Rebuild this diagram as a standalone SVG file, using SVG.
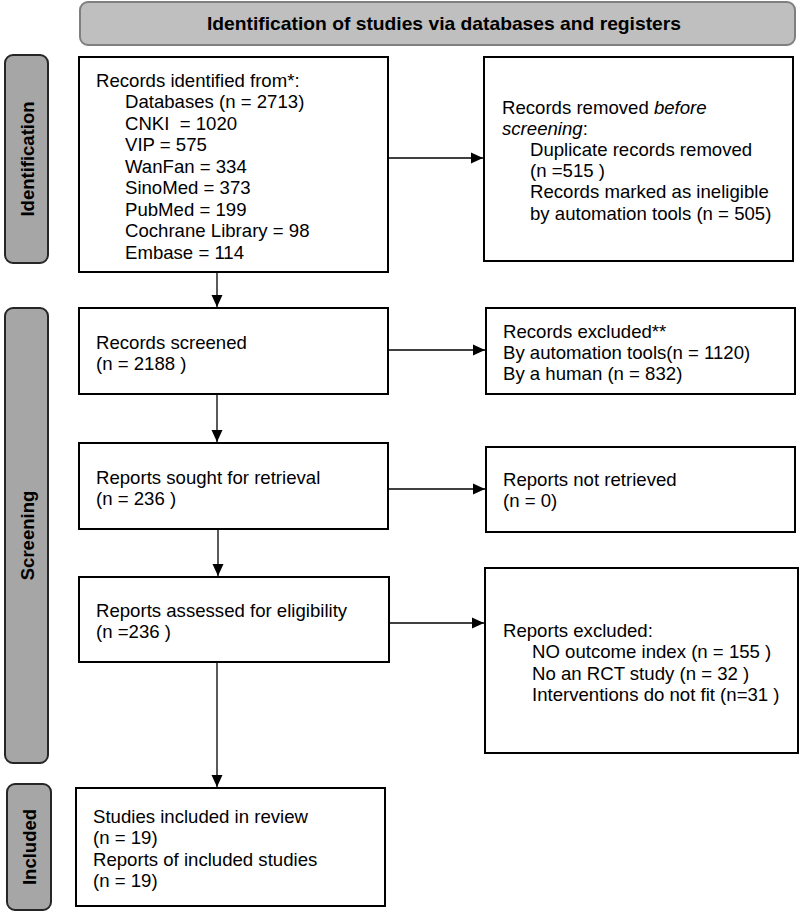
<svg xmlns="http://www.w3.org/2000/svg" width="800" height="914" viewBox="0 0 800 914">
<defs>
<style>
.box{fill:#fff;stroke:#000;stroke-width:2}
.side{fill:#a6a6a6;stroke:#262626;stroke-width:2}
.hdr{fill:#bfbfbf;stroke:#7f7f7f;stroke-width:2}
.t{font-family:"Liberation Sans",Arial,sans-serif;font-size:18.6px;fill:#000}
.lbl{font-family:"Liberation Sans",Arial,sans-serif;font-size:18.5px;font-weight:bold;fill:#000;text-anchor:middle}
.ln{stroke:#000;stroke-width:1.3;fill:none}
</style>
<marker id="ah" viewBox="0 0 12 12" refX="12" refY="6" markerWidth="12" markerHeight="12" markerUnits="userSpaceOnUse" orient="auto">
<path d="M0,0.5 L12,6 L0,11.5 Z" fill="#000"/>
</marker>
</defs>
<rect width="800" height="914" fill="#fff"/>

<g id="header">
<rect class="hdr" x="80" y="2" width="715" height="43" rx="8"/>
<text class="lbl" x="444" y="30" font-size="19.5" textLength="474" lengthAdjust="spacingAndGlyphs">Identification of studies via databases and registers</text>
</g>

<g id="side-identification">
<rect class="side" x="5" y="55" width="43" height="208" rx="8"/>
<text class="lbl" transform="translate(33.5,159) rotate(-90)">Identification</text>
</g>
<g id="side-screening">
<rect class="side" x="5" y="308" width="43" height="455" rx="8"/>
<text class="lbl" transform="translate(33.5,535.5) rotate(-90)">Screening</text>
</g>
<g id="side-included">
<rect class="side" x="7" y="784" width="44" height="126" rx="8"/>
<text class="lbl" transform="translate(35.5,847) rotate(-90)">Included</text>
</g>

<g id="records-identified">
<rect class="box" x="79" y="57" width="309" height="215"/>
<text class="t" x="96" y="86.5">Records identified from*:</text>
<text class="t" x="125" y="108">Databases (n = 2713)</text>
<text class="t" x="125" y="129.5" xml:space="preserve">CNKI  = 1020</text>
<text class="t" x="125" y="151">VIP = 575</text>
<text class="t" x="125" y="172.5">WanFan = 334</text>
<text class="t" x="125" y="194">SinoMed = 373</text>
<text class="t" x="125" y="215.5">PubMed = 199</text>
<text class="t" x="125" y="237">Cochrane Library = 98</text>
<text class="t" x="125" y="258.5">Embase = 114</text>
</g>

<g id="records-removed">
<rect class="box" x="484" y="57" width="309" height="204"/>
<text class="t" x="502" y="113.5">Records removed <tspan font-style="italic">before</tspan></text>
<text class="t" x="502" y="134.7"><tspan font-style="italic">screening</tspan>:</text>
<text class="t" x="530" y="155.9">Duplicate records removed</text>
<text class="t" x="530" y="177.1">(n =515 )</text>
<text class="t" x="530" y="198.3">Records marked as ineligible</text>
<text class="t" x="530" y="219.5">by automation tools (n = 505)</text>
</g>

<g id="records-screened">
<rect class="box" x="79" y="308" width="309" height="86"/>
<text class="t" x="96" y="348.5">Records screened</text>
<text class="t" x="96" y="369.5">(n = 2188 )</text>
</g>

<g id="records-excluded">
<rect class="box" x="486" y="308" width="309" height="86"/>
<text class="t" x="503" y="337.5">Records excluded**</text>
<text class="t" x="503" y="359">By automation tools(n = 1120)</text>
<text class="t" x="503" y="380">By a human (n = 832)</text>
</g>

<g id="reports-sought">
<rect class="box" x="79" y="443" width="309" height="86"/>
<text class="t" x="96" y="483.5">Reports sought for retrieval</text>
<text class="t" x="96" y="504.5">(n = 236 )</text>
</g>

<g id="reports-not-retrieved">
<rect class="box" x="486" y="447" width="309" height="85"/>
<text class="t" x="503" y="485.5">Reports not retrieved</text>
<text class="t" x="503" y="507">(n = 0)</text>
</g>

<g id="reports-assessed">
<rect class="box" x="79" y="577" width="310" height="85"/>
<text class="t" x="96" y="616.5">Reports assessed for eligibility</text>
<text class="t" x="96" y="638">(n =236 )</text>
</g>

<g id="reports-excluded">
<rect class="box" x="485" y="568" width="313" height="185"/>
<text class="t" x="503" y="636.5">Reports excluded:</text>
<text class="t" x="532" y="658">NO outcome index (n = 155 )</text>
<text class="t" x="532" y="679.5">No an RCT study (n = 32 )</text>
<text class="t" x="532" y="701">Interventions do not fit (n=31 )</text>
</g>

<g id="studies-included">
<rect class="box" x="76" y="788" width="309" height="118"/>
<text class="t" x="93" y="822.5">Studies included in review</text>
<text class="t" x="93" y="844">(n = 19)</text>
<text class="t" x="93" y="865.5">Reports of included studies</text>
<text class="t" x="93" y="887">(n = 19)</text>
</g>

<g id="connectors">
<line class="ln" x1="217" y1="272" x2="217" y2="307" marker-end="url(#ah)"/>
<line class="ln" x1="217" y1="394" x2="217" y2="442" marker-end="url(#ah)"/>
<line class="ln" x1="218" y1="529" x2="218" y2="576" marker-end="url(#ah)"/>
<line class="ln" x1="217" y1="662" x2="217" y2="787" marker-end="url(#ah)"/>
<line class="ln" x1="388" y1="158" x2="483" y2="158" marker-end="url(#ah)"/>
<line class="ln" x1="388" y1="350" x2="485" y2="350" marker-end="url(#ah)"/>
<line class="ln" x1="388" y1="489" x2="485" y2="489" marker-end="url(#ah)"/>
<line class="ln" x1="389" y1="623" x2="484" y2="623" marker-end="url(#ah)"/>
</g>
</svg>
